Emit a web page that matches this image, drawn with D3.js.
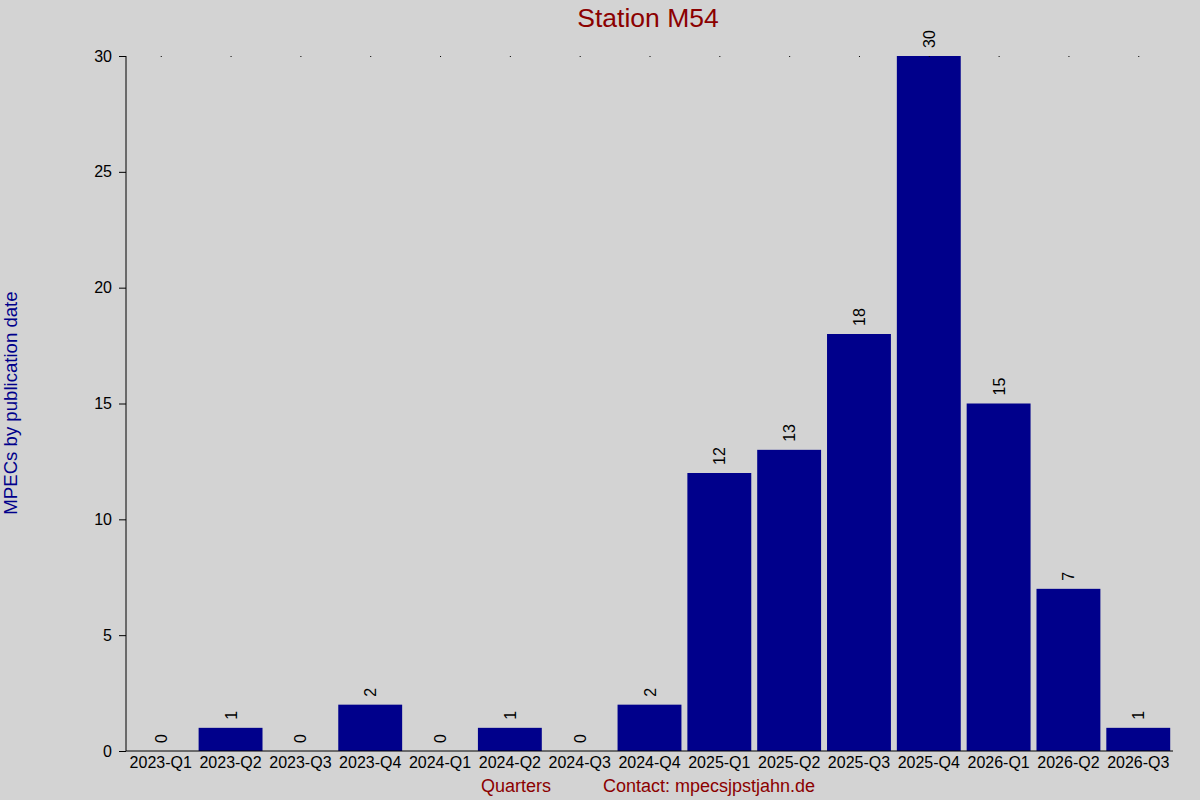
<!DOCTYPE html>
<html>
<head>
<meta charset="utf-8">
<script src="https://cdn.jsdelivr.net/npm/d3@7"></script>
<style>
  body { margin: 0; background: #d3d3d3; }
  svg { display: block; font-family: "Liberation Sans", Arial, sans-serif; }
</style>
</head>
<body>
<svg id="chart"></svg>
<script>
const quarters = ["2023-Q1", "2023-Q2", "2023-Q3", "2023-Q4", "2024-Q1", "2024-Q2", "2024-Q3", "2024-Q4",
                  "2025-Q1", "2025-Q2", "2025-Q3", "2025-Q4", "2026-Q1", "2026-Q2", "2026-Q3"];
const counts = [0, 1, 0, 2, 0, 1, 0, 2, 12, 13, 18, 30, 15, 7, 1];
const yTicks = [0, 5, 10, 15, 20, 25, 30];

const width = 1200;
const height = 800;
const margin = { top: 56, right: 27, bottom: 49, left: 126 };

const svg = d3.select("#chart")
    .attr("width", width)
    .attr("height", height);

svg.append("rect")
    .attr("width", width)
    .attr("height", height)
    .attr("fill", "#d3d3d3");

const xScale = d3.scaleBand()
    .domain(quarters)
    .range([margin.left, width - margin.right])
    .paddingInner(0.085)
    .paddingOuter(0.04);

const yScale = d3.scaleLinear()
    .domain([0, 30])
    .range([height - margin.bottom, margin.top]);

const data = quarters.map((q, i) => ({ quarter: q, value: counts[i] }));

// bars
svg.selectAll("rect.bar")
    .data(data)
    .enter()
    .append("rect")
    .attr("class", "bar")
    .attr("x", d => xScale(d.quarter))
    .attr("y", d => yScale(d.value))
    .attr("width", xScale.bandwidth())
    .attr("height", d => yScale(0) - yScale(d.value))
    .attr("fill", "#00008b");

// little dots at the top of the chart
svg.selectAll("rect.dot")
    .data(quarters)
    .enter()
    .append("rect")
    .attr("class", "dot")
    .attr("x", d => xScale(d) + xScale.bandwidth() / 2)
    .attr("y", yScale(30))
    .attr("width", 1)
    .attr("height", 1)
    .attr("fill", "black");

// value labels, rotated
svg.selectAll("text.value")
    .data(data)
    .enter()
    .append("text")
    .attr("class", "value")
    .attr("transform", d => `translate(${xScale(d.quarter) + xScale.bandwidth() / 2 + 6}, ${yScale(d.value) - 8}) rotate(-90)`)
    .attr("font-size", "16px")
    .attr("fill", "black")
    .text(d => d.value);

// y axis
const yAxis = d3.axisLeft(yScale)
    .tickValues(yTicks)
    .tickSize(7)
    .tickPadding(7);

svg.append("g")
    .attr("transform", `translate(${margin.left}, 0)`)
    .call(yAxis)
    .call(g => g.selectAll("text").attr("font-size", "16px").attr("font-family", "Liberation Sans, Arial, sans-serif").attr("fill", "black"))
    .call(g => g.selectAll("line, path").attr("stroke", "black"))
    .call(g => g.select(".domain").attr("d", `M0,${yScale(30)}V${yScale(0)}`));

// x axis
const xAxis = d3.axisBottom(xScale)
    .tickSize(0)
    .tickPadding(6);

svg.append("g")
    .attr("transform", `translate(0, ${yScale(0)})`)
    .call(xAxis)
    .call(g => g.selectAll("text").attr("font-size", "16px").attr("font-family", "Liberation Sans, Arial, sans-serif").attr("fill", "black"))
    .call(g => g.select(".domain").attr("stroke", "black").attr("d", `M${margin.left},0H${width - margin.right}`));

// title
svg.append("text")
    .attr("x", 648)
    .attr("y", 27)
    .attr("text-anchor", "middle")
    .attr("font-size", "26.5px")
    .attr("fill", "#8b0000")
    .text("Station M54");

// y axis title
svg.append("text")
    .attr("transform", "translate(17, 403) rotate(-90)")
    .attr("text-anchor", "middle")
    .attr("font-size", "18.6px")
    .attr("fill", "#00008b")
    .text("MPECs by publication date");

// footer
svg.append("text")
    .attr("x", 516)
    .attr("y", 792)
    .attr("text-anchor", "middle")
    .attr("font-size", "18px")
    .attr("fill", "#8b0000")
    .text("Quarters");

svg.append("text")
    .attr("x", 603)
    .attr("y", 792)
    .attr("font-size", "18px")
    .attr("fill", "#8b0000")
    .text("Contact: mpecsjpstjahn.de");
</script>
</body>
</html>
